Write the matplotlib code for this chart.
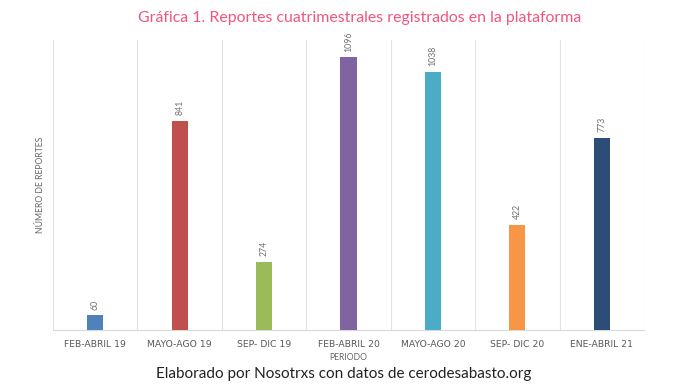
import matplotlib.pyplot as plt
import numpy as np

# datos
periodos = ["FEB-ABRIL 19", "MAYO-AGO 19", "SEP- DIC 19", "FEB-ABRIL 20",
            "MAYO-AGO 20", "SEP- DIC 20", "ENE-ABRIL 21"]
reportes = [60, 841, 274, 1096, 1038, 422, 773]
colores = ["#4F81BD", "#C0504D", "#9BBB59", "#8064A2", "#4BACC6", "#F79646", "#2C4D75"]

plt.rcParams['font.family'] = ['Lato', 'DejaVu Sans']

fig = plt.figure(figsize=(6.87, 3.89), dpi=100)
ax = fig.add_axes([53/687, 1 - 330/389, 591/687, 290/389])

x = np.arange(len(periodos))
ax.bar(x, reportes, width=0.19, color=colores, zorder=3)

for xi, v in zip(x, reportes):
    ax.annotate(str(v), (xi, v), xytext=(0, 4), textcoords="offset points",
                rotation=90, ha="center", va="bottom", fontsize=6.3, color="#707070")

ax.set_xlim(-0.5, len(periodos) - 0.5)
ax.set_ylim(0, 1165)
ax.set_xticks(x)
ax.set_xticklabels(periodos, fontsize=6.7, color="#595959", family="DejaVu Sans")
ax.tick_params(axis="x", length=0, pad=7)
ax.set_yticks([])
for b in np.arange(-0.5, len(periodos), 1):
    ax.axvline(b, color="#E3E3E3", linewidth=0.8, zorder=1)

for s in ["top", "right", "left"]:
    ax.spines[s].set_visible(False)
ax.spines["bottom"].set_color("#D9D9D9")

ax.set_xlabel("PERIODO", fontsize=6.2, color="#666666", labelpad=3)
ax.set_ylabel("NÚMERO DE REPORTES", fontsize=6.2, color="#666666", labelpad=6)

fig.text(360/687, 1 - 18/389, "Gráfica 1. Reportes cuatrimestrales registrados en la plataforma",
         ha="center", va="center", fontsize=11.4, color="#F2557C")
fig.text(0.5, 1 - 374/389, "Elaborado por Nosotrxs con datos de cerodesabasto.org",
         ha="center", va="center", fontsize=11, color="#222222")

fig.savefig("out.png", dpi=100)
